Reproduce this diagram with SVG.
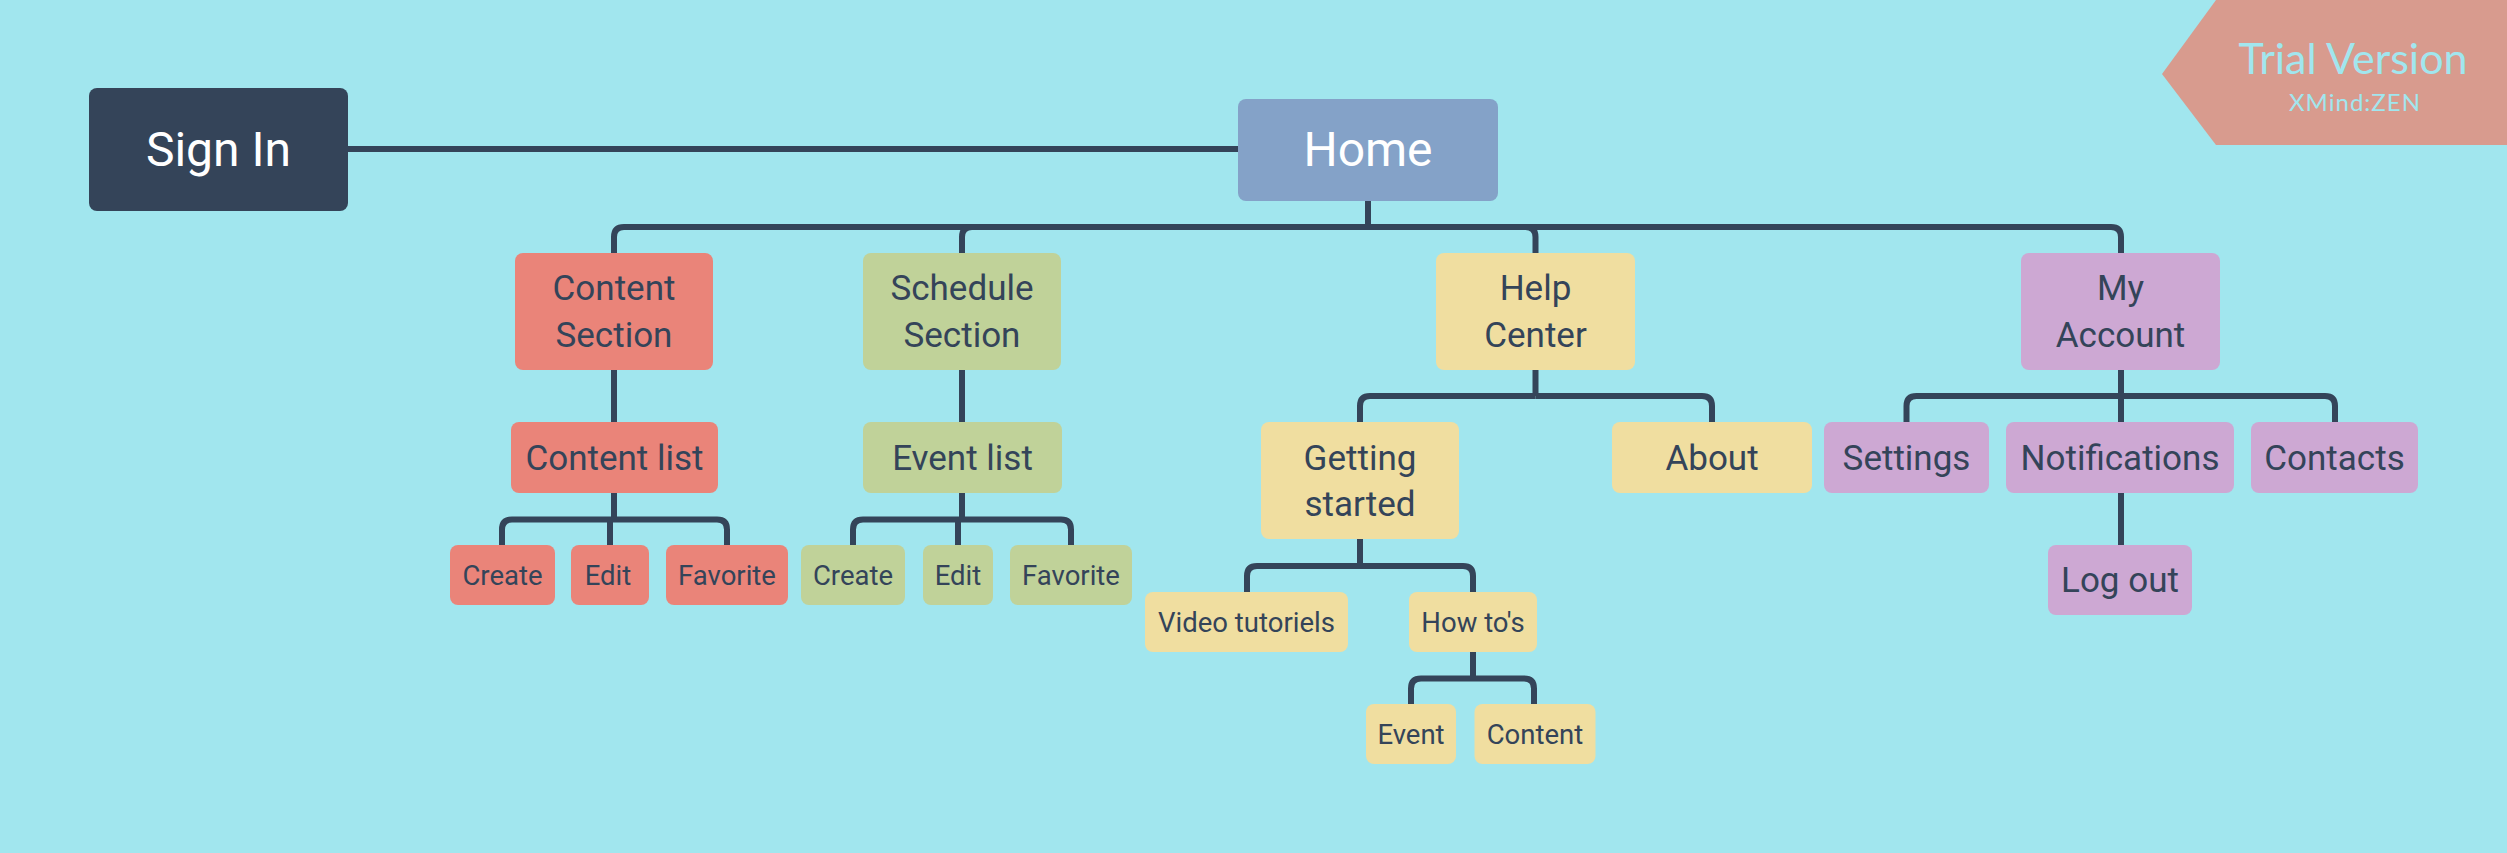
<svg xmlns="http://www.w3.org/2000/svg" width="2507" height="853" viewBox="0 0 2507 853">
<style>
.bg{fill:#A1E6EE}
.c{fill:none;stroke:#344459;stroke-width:6;stroke-linejoin:round}
.t{font-family:Roboto,"Liberation Sans",sans-serif;fill:#344459;text-anchor:middle}
.w{fill:#FFFFFF}
.l1{font-size:35px}
.l3{font-size:27.5px}
.root{font-size:48px}
.red{fill:#EA8479}
.grn{fill:#C0D299}
.yel{fill:#F0DEA0}
.pur{fill:#CDA8D3}
</style>
<rect class="bg" x="0" y="0" width="2507" height="853"/>
<g id="connectors">
<path class="c" d="M348,149 H1238"/>
<path class="c" d="M1368,201 V227"/>
<path class="c" d="M1368,227 H624 Q614,227 614,237 V253"/>
<path class="c" d="M1368,227 H972 Q962,227 962,237 V253"/>
<path class="c" d="M1368,227 H1525.5 Q1535.5,227 1535.5,237 V253"/>
<path class="c" d="M1368,227 H2111 Q2121,227 2121,237 V253"/>
<path class="c" d="M614,370 V422"/>
<path class="c" d="M962,370 V422"/>
<path class="c" d="M614,493 V519.5"/>
<path class="c" d="M614,519.5 H512 Q502,519.5 502,529.5 V545"/>
<path class="c" d="M610,519.5 V545"/>
<path class="c" d="M614,519.5 H717 Q727,519.5 727,529.5 V545"/>
<path class="c" d="M962,493 V519.5"/>
<path class="c" d="M962,519.5 H863 Q853,519.5 853,529.5 V545"/>
<path class="c" d="M958,519.5 V545"/>
<path class="c" d="M962,519.5 H1061 Q1071,519.5 1071,529.5 V545"/>
<path class="c" d="M1535.5,370 V396"/>
<path class="c" d="M1535.5,396 H1370 Q1360,396 1360,406 V422"/>
<path class="c" d="M1535.5,396 H1702 Q1712,396 1712,406 V422"/>
<path class="c" d="M1360,539 V566"/>
<path class="c" d="M1360,566 H1257 Q1247,566 1247,576 V592"/>
<path class="c" d="M1360,566 H1463 Q1473,566 1473,576 V592"/>
<path class="c" d="M1473,652 V678.5"/>
<path class="c" d="M1473,678.5 H1421 Q1411,678.5 1411,688.5 V704"/>
<path class="c" d="M1473,678.5 H1524 Q1534,678.5 1534,688.5 V704"/>
<path class="c" d="M2121,370 V396"/>
<path class="c" d="M2121,396 H1916.5 Q1906.5,396 1906.5,406 V422"/>
<path class="c" d="M2121,396 V422"/>
<path class="c" d="M2121,396 H2325 Q2335,396 2335,406 V422"/>
<path class="c" d="M2121,493 V545"/>
</g>
<g id="sign-in"><rect x="89" y="88" width="259" height="123" rx="8" fill="#344459"/><text class="t w root" x="218.5" y="166">Sign In</text></g>
<g id="home"><rect x="1238" y="99" width="260" height="102" rx="8" fill="#84A2C8"/><text class="t w root" x="1368" y="166">Home</text></g>
<g id="content-section"><rect class="red" x="515" y="253" width="198" height="117" rx="8"/><text class="t l1" x="614" y="300">Content</text><text class="t l1" x="614" y="347">Section</text></g>
<g id="schedule-section"><rect class="grn" x="863" y="253" width="198" height="117" rx="8"/><text class="t l1" x="962" y="300">Schedule</text><text class="t l1" x="962" y="347">Section</text></g>
<g id="help-center"><rect class="yel" x="1436" y="253" width="199" height="117" rx="8"/><text class="t l1" x="1535.5" y="300">Help</text><text class="t l1" x="1535.5" y="347">Center</text></g>
<g id="my-account"><rect class="pur" x="2021" y="253" width="199" height="117" rx="8"/><text class="t l1" x="2120.5" y="300">My</text><text class="t l1" x="2120.5" y="347">Account</text></g>
<g id="content-list"><rect class="red" x="511" y="422" width="207" height="71" rx="8"/><text class="t l1" x="614.5" y="469.5">Content list</text></g>
<g id="event-list"><rect class="grn" x="863" y="422" width="199" height="71" rx="8"/><text class="t l1" x="962.5" y="469.5">Event list</text></g>
<g id="c-create"><rect class="red" x="450" y="545" width="105" height="60" rx="8"/><text class="t l3" x="502.5" y="584.5">Create</text></g>
<g id="c-edit"><rect class="red" x="571" y="545" width="78" height="60" rx="8"/><text class="t l3" x="608" y="584.5">Edit</text></g>
<g id="c-favorite"><rect class="red" x="666" y="545" width="122" height="60" rx="8"/><text class="t l3" x="727" y="584.5">Favorite</text></g>
<g id="e-create"><rect class="grn" x="801" y="545" width="104" height="60" rx="8"/><text class="t l3" x="853" y="584.5">Create</text></g>
<g id="e-edit"><rect class="grn" x="923" y="545" width="70" height="60" rx="8"/><text class="t l3" x="958" y="584.5">Edit</text></g>
<g id="e-favorite"><rect class="grn" x="1010" y="545" width="122" height="60" rx="8"/><text class="t l3" x="1071" y="584.5">Favorite</text></g>
<g id="getting-started"><rect class="yel" x="1261" y="422" width="198" height="117" rx="8"/><text class="t l1" x="1360" y="469.5">Getting</text><text class="t l1" x="1360" y="516">started</text></g>
<g id="about"><rect class="yel" x="1612" y="422" width="200" height="71" rx="8"/><text class="t l1" x="1712" y="469.5">About</text></g>
<g id="video-tutoriels"><rect class="yel" x="1145" y="592" width="203" height="60" rx="8"/><text class="t l3" x="1246.5" y="631.5">Video tutoriels</text></g>
<g id="how-tos"><rect class="yel" x="1409" y="592" width="128" height="60" rx="8"/><text class="t l3" x="1473" y="631.5">How to's</text></g>
<g id="h-event"><rect class="yel" x="1366" y="704" width="90" height="60" rx="8"/><text class="t l3" x="1411" y="743.5">Event</text></g>
<g id="h-content"><rect class="yel" x="1474.5" y="704" width="121" height="60" rx="8"/><text class="t l3" x="1535" y="743.5">Content</text></g>
<g id="settings"><rect class="pur" x="1824" y="422" width="165" height="71" rx="8"/><text class="t l1" x="1906.5" y="469.5">Settings</text></g>
<g id="notifications"><rect class="pur" x="2006" y="422" width="228" height="71" rx="8"/><text class="t l1" x="2120" y="469.5">Notifications</text></g>
<g id="contacts"><rect class="pur" x="2251" y="422" width="167" height="71" rx="8"/><text class="t l1" x="2334.5" y="469.5">Contacts</text></g>
<g id="log-out"><rect class="pur" x="2048" y="545" width="144" height="70" rx="8"/><text class="t l1" x="2120" y="592">Log out</text></g>
<g id="trial-badge"><polygon points="2162,74 2216,0 2507,0 2507,145 2216,145" fill="#D89B8E"/><text x="2353" y="74" font-family="Lato,'Open Sans',sans-serif" font-size="43" fill="#A1E6EE" text-anchor="middle">Trial Version</text><text x="2355" y="111" font-family="Lato,'Open Sans',sans-serif" font-size="24" fill="#A1E6EE" text-anchor="middle" letter-spacing="1">XMind:ZEN</text></g>
</svg>
